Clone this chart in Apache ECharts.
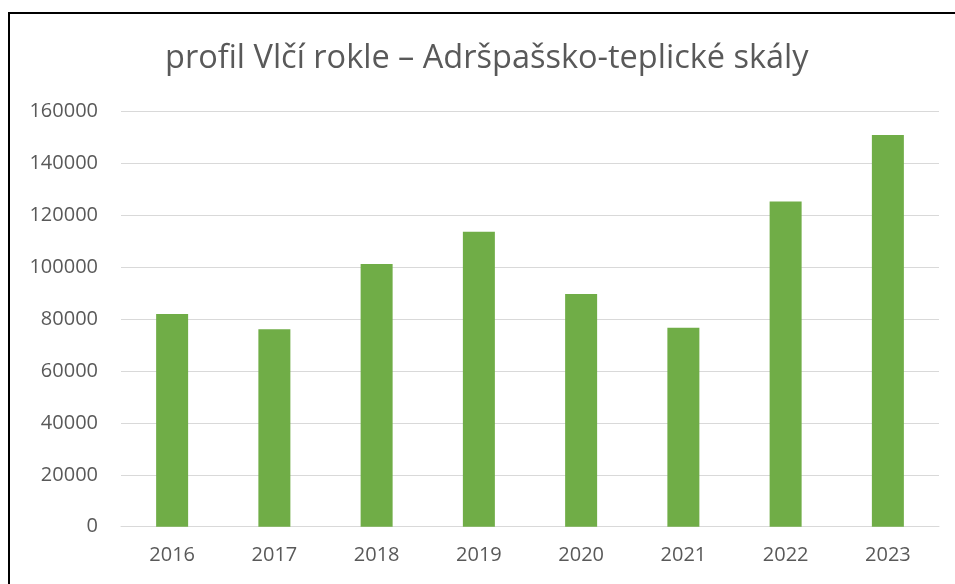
<!DOCTYPE html>
<html>
<head>
<meta charset="utf-8">
<script src="https://cdn.jsdelivr.net/npm/echarts@6/dist/echarts.min.js"></script>
<style>
html,body{margin:0;padding:0;background:#fff;}
#c{width:955px;height:584px;}
</style>
</head>
<body>
<div id="c"></div>
<script>
const titleText = 'profil Vlčí rokle – Adršpašsko-teplické skály';
const categories = ['2016','2017','2018','2019','2020','2021','2022','2023'];
const visitors = [82000, 76100, 101300, 113700, 89700, 76700, 125400, 151000];
const yTicks = {min: 0, max: 160000, interval: 20000};

const chart = echarts.init(document.getElementById('c'));
const fontFam = "'Open Sans', sans-serif";
chart.setOption({
  animation: false,
  backgroundColor: '#fff',
  title: {
    text: titleText,
    left: 160,
    top: 37,
    textStyle: {color: '#595959', fontSize: 32.5, fontWeight: 'normal', fontFamily: fontFam}
  },
  graphic: [{
    type: 'rect',
    shape: {x: 9, y: 13, width: 1000, height: 1000},
    style: {fill: 'none', stroke: '#000', lineWidth: 2},
    silent: true
  }],
  grid: {left: 121, right: 16, top: 111.7, bottom: 57.3, containLabel: false},
  xAxis: {
    type: 'category',
    data: categories,
    axisLine: {lineStyle: {color: '#d9d9d9', width: 1}},
    axisTick: {show: false},
    axisLabel: {color: '#595959', fontSize: 20, margin: 19, fontFamily: fontFam}
  },
  yAxis: {
    type: 'value',
    min: yTicks.min, max: yTicks.max, interval: yTicks.interval,
    axisLine: {show: false},
    axisTick: {show: false},
    splitLine: {lineStyle: {color: '#d9d9d9', width: 1}},
    axisLabel: {color: '#595959', fontSize: 20, margin: 23, fontFamily: fontFam,
      formatter: function (v) { return String(v); }}
  },
  series: [{
    type: 'bar',
    data: visitors,
    barWidth: 32,
    itemStyle: {color: '#70AD47'}
  }]
});
</script>
</body>
</html>
